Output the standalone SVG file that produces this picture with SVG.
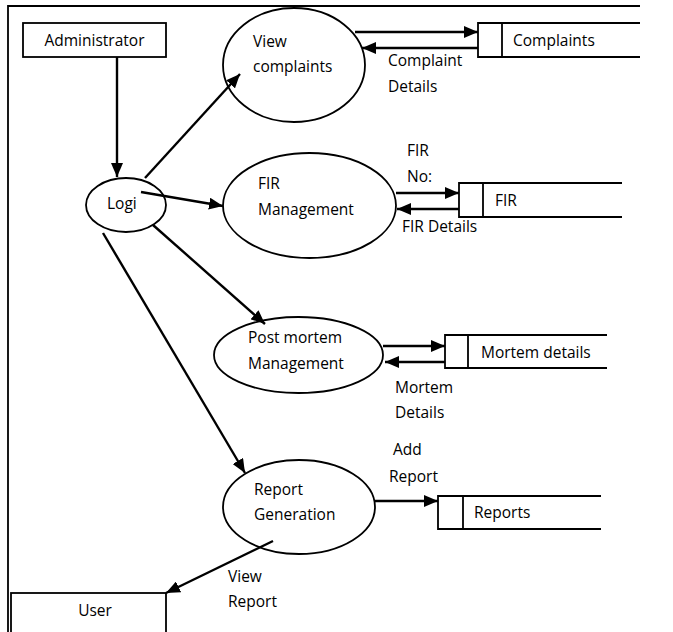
<svg xmlns="http://www.w3.org/2000/svg" width="673" height="632" viewBox="0 0 673 632">
<style>
text{font-family:"Open Sans","Liberation Sans",Arial,sans-serif;font-size:15.5px;fill:#000}
.shape{fill:#fff;stroke:#000;stroke-width:1.8}
.line{fill:none;stroke:#000;stroke-width:1.8}
.flow{fill:none;stroke:#000;stroke-width:2.4;marker-end:url(#ah)}
</style>
<defs>
<marker id="ah" markerUnits="userSpaceOnUse" markerWidth="15" markerHeight="12" refX="14" refY="6" orient="auto">
<path d="M0,0 L14,6 L0,12 z" fill="#000"/>
</marker>
</defs>
<rect width="673" height="632" fill="#fff"/>
<g id="frame">
<path class="line" d="M8,632 V6 H640" stroke-width="2.2"/>
</g>
<g id="administrator">
<rect class="shape" x="23" y="23" width="143" height="34"/>
<text x="94.5" y="46" text-anchor="middle">Administrator</text>
</g>
<g id="logi">
<ellipse class="shape" cx="126" cy="205" rx="40" ry="27"/>
<text x="107" y="209">Logi</text>
</g>
<g id="view-complaints">
<ellipse class="shape" cx="294" cy="65" rx="71" ry="57"/>
<text x="253" y="47">View</text>
<text x="253" y="72">complaints</text>
</g>
<g id="complaints-store">
<path class="line" d="M640,23 H478 V57 H640 M502,23 V57"/>
<text x="513" y="46">Complaints</text>
</g>
<g id="fir-management">
<ellipse class="shape" cx="309.5" cy="205.5" rx="86.5" ry="52.5"/>
<text x="258" y="189">FIR</text>
<text x="258" y="215">Management</text>
</g>
<g id="fir-store">
<path class="line" d="M622,183 H459 V217 H622 M483,183 V217"/>
<text x="495" y="206">FIR</text>
</g>
<g id="post-mortem">
<ellipse class="shape" cx="298.5" cy="355" rx="84.5" ry="38"/>
<text x="248" y="343">Post mortem</text>
<text x="248" y="369">Management</text>
</g>
<g id="mortem-store">
<path class="line" d="M607,335 H445 V368 H607 M468,335 V368"/>
<text x="481" y="358">Mortem details</text>
</g>
<g id="report-generation">
<ellipse class="shape" cx="299" cy="507" rx="76" ry="47"/>
<text x="254" y="495">Report</text>
<text x="254" y="520">Generation</text>
</g>
<g id="reports-store">
<path class="line" d="M601,496 H438 V529 H601 M463,496 V529"/>
<text x="474" y="518">Reports</text>
</g>
<g id="user">
<rect class="shape" x="11" y="593" width="155" height="45"/>
<text x="95" y="616" text-anchor="middle">User</text>
</g>
<g id="connectors">
<path class="flow" d="M117,57 V177"/>
<path class="flow" d="M145,178 L240,74"/>
<path class="flow" d="M141,192 L223,206"/>
<path class="flow" d="M153,225 L265,324"/>
<path class="flow" d="M103,233 L245,473"/>
<path class="flow" d="M355,32 H478"/>
<path class="flow" d="M478,48 H362"/>
<path class="flow" d="M396,193 H459"/>
<path class="flow" d="M459,209 H397"/>
<path class="flow" d="M383,346 H445"/>
<path class="flow" d="M445,362 H385"/>
<path class="flow" d="M375,501 H438"/>
<path class="flow" d="M273,541 L166,593"/>
</g>
<g id="labels">
<text x="388" y="66">Complaint</text>
<text x="388" y="92">Details</text>
<text x="407" y="156">FIR</text>
<text x="407" y="182">No:</text>
<text x="402" y="232">FIR Details</text>
<text x="395" y="393">Mortem</text>
<text x="395" y="418">Details</text>
<text x="393" y="455">Add</text>
<text x="389" y="482">Report</text>
<text x="228" y="582">View</text>
<text x="228" y="607">Report</text>
</g>
</svg>
